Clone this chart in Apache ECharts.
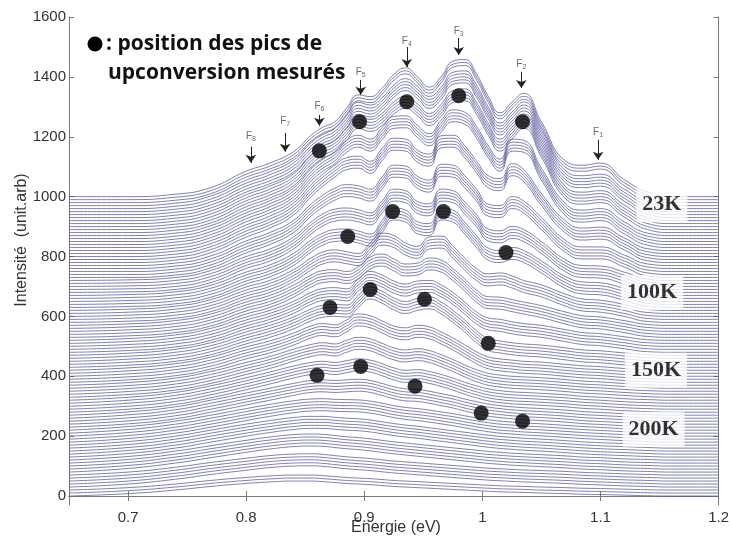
<!DOCTYPE html>
<html><head><meta charset="utf-8">
<script src="https://cdn.jsdelivr.net/npm/echarts@6/dist/echarts.min.js"></script>
<style>html,body{margin:0;padding:0;background:#fff}#c{width:732px;height:540px}</style>
</head><body><div id="c"></div>
<script>
// Energy grid (eV) shared by all spectra
const energies = [0.65,0.70,0.74,0.77,0.80,0.82,0.84,0.855,0.865,0.875,0.885,0.895,0.905,0.915,0.925,0.935,0.945,0.955,0.965,0.975,0.985,0.995,1.005,1.015,1.025,1.035,1.05,1.07,1.085,1.10,1.12,1.14,1.16,1.20];

// Vertical offset of each spectrum in the waterfall
const offsets = [0,10,20,30,40,50,60,70,80,90,100,110,120,130,140,150,160,170,180,190,200,210,220,230,240,250,260,270,280,290,300,310,320,330,340,350,360,370,380,390,400,410,420,430,440,450,460,470,480,490,500,510,520,530,540,550,560,570,580,590,600,610,620,630,640,650,660,670,680,690,700,710,720,730,740,750,760,770,780,790,800,810,820,830,840,850,860,870,880,890,900,910,920,930,940,950,960,970,980,990,1000];

// Spectral shapes (intensity above each spectrum's own baseline), by offset level
const prof0    = [0,8,20,32,42,47,50,50,48,45,42,40,38,35,32,30,28,26,24,22,20,18,16,14,13,12,10,8,6,5,3,1,0,0];
const prof50   = [0,10,26,42,56,65,70,71,69,65,61,58,55,51,47,44,41,38,35,32,29,26,23,21,19,17,15,12,9,7,4,2,0,0];
const prof100  = [0,12,30,48,66,77,85,87,86,82,78,75,71,66,61,57,53,49,45,41,37,33,29,26,23,21,18,14,10,8,4,2,0,0];
const prof150  = [0,12,30,50,70,82,92,96,96,93,90,88,84,78,72,67,63,58,53,48,43,38,33,29,26,23,20,15,11,8,5,2,0,0];
const prof200  = [0,12,30,50,72,86,98,104,105,103,102,101,97,90,82,76,72,67,61,55,48,41,35,30,27,24,21,16,12,9,5,2,0,0];
const prof250  = [0,11,28,50,74,90,106,116,118,116,118,120,116,106,95,88,86,80,72,64,54,45,37,32,28,25,22,17,12,9,5,2,0,0];
const prof300  = [0,10,26,48,75,94,114,126,130,126,132,138,134,122,108,100,102,96,86,74,60,48,38,32,28,26,23,18,13,10,5,2,0,0];
const prof350  = [0,9,24,46,76,96,120,136,142,138,150,160,155,140,125,118,122,116,102,86,68,52,40,34,30,28,25,19,14,11,6,2,0,0];
const prof400  = [0,8,22,44,78,98,124,148,156,152,168,188,182,165,148,142,150,145,128,108,85,62,45,38,34,30,27,20,15,12,6,2,0,0];
const prof450  = [0,7,20,42,78,100,128,155,167,170,168,200,228,214,192,180,190,195,178,150,118,82,56,48,42,38,34,25,18,15,8,2,0,0];
const prof500  = [0,6,18,40,78,100,130,160,173,176,172,205,230,218,198,188,198,200,185,160,128,95,75,70,62,56,50,36,26,22,12,2,0,0];
const prof550  = [0,5,16,38,78,100,134,168,183,186,180,196,228,238,222,205,208,225,218,190,155,118,96,94,86,78,66,45,32,28,16,3,0,0];
const prof600  = [0,4,14,36,78,100,136,175,195,202,196,190,225,258,250,225,214,245,248,215,175,140,122,125,115,100,85,55,38,34,20,3,0,0];
const prof650  = [0,3,12,34,78,102,140,185,208,220,222,215,205,250,292,285,246,240,292,285,245,200,158,150,160,150,115,64,45,42,24,4,0,0];
const prof700  = [0,2,10,33,80,105,145,195,222,238,242,236,226,265,305,300,264,256,305,300,262,220,172,166,180,170,130,70,50,48,28,4,0,0];
const prof750  = [0,0,8,32,82,110,150,205,235,258,270,266,255,295,335,332,298,285,338,335,300,255,205,200,230,215,160,85,62,62,35,5,0,0];
const prof800  = [0,0,8,33,85,115,158,220,255,285,310,315,298,340,375,372,335,322,383,385,350,300,250,240,290,270,190,100,75,78,42,6,0,0];
const prof850  = [0,0,8,33,86,116,158,222,255,280,318,335,322,360,398,400,368,340,385,420,412,365,300,255,322,318,225,108,85,90,46,8,0,0];
const prof900  = [0,0,8,32,86,115,156,218,248,268,308,348,338,358,396,415,390,358,388,434,440,395,325,272,312,348,252,115,95,100,52,10,0,0];
const prof950  = [0,0,8,32,85,113,152,210,238,258,300,345,336,360,402,424,398,365,395,445,450,402,330,276,312,346,252,118,100,105,55,12,0,0];
const prof1000 = [0,0,8,30,85,112,150,205,232,250,295,340,334,362,408,430,400,366,400,452,458,410,335,280,315,345,250,120,105,112,57,15,0,0];
const profiles = [prof0,prof50,prof100,prof150,prof200,prof250,prof300,prof350,prof400,prof450,prof500,prof550,prof600,prof650,prof700,prof750,prof800,prof850,prof900,prof950,prof1000];

// Measured upconversion peak positions (black dots)
const dotX = [0.862,0.896,0.936,0.980,1.034, 0.886,0.924,0.967,1.020, 0.871,0.905,0.951,1.005, 0.860,0.897,0.943,0.999,1.034];
const dotY = [1153,1250,1317,1337,1250, 867,950,950,813, 630,690,657,510, 403,433,367,277,250];

// Temperature labels
const tempLabels = ['23K','100K','150K','200K'];
const tempX = [1.152,1.1437,1.147,1.145];
const tempY = [973,680,420,223];

// F peak annotations
const fNames = ['8','7','6','5','4','3','2','1'];
const fX = [0.804,0.833,0.862,0.897,0.936,0.980,1.033,1.098];
const fLabelY = [1200,1250,1300,1413,1517,1550,1440,1213];
const fArrowTop = [1167,1213,1273,1390,1500,1530,1417,1190];
const fArrowTip = [1113,1150,1237,1340,1433,1473,1363,1123];

// Axis ticks
const xTicks = [0.7,0.8,0.9,1.0,1.1,1.2];
const yTicks = [0,200,400,600,800,1000,1200,1400,1600];

const chart = echarts.init(document.getElementById('c'), null, {renderer:'canvas'});
const axisColor = '#7a7a7a';
const labelFont = {color:'#333', fontSize:15, fontFamily:'Liberation Sans, Arial, sans-serif'};

const lineSeries = offsets.map(off => {
  const prof = profiles[Math.round(off / 50)];
  return {
    type:'line', silent:true, showSymbol:false, smooth:0.5, animation:false,
    lineStyle:{color:'rgba(78,78,150,0.72)', width:1},
    emphasis:{disabled:true},
    data: energies.map((x, j) => [x, off + prof[j]])
  };
});

const option = {
  animation:false,
  grid:{left:69, right:8, top:17, bottom:35},
  xAxis:[
    {type:'value', min:0.65, max:1.2, position:'bottom',
     axisLine:{show:true, lineStyle:{color:axisColor}},
     axisTick:{show:true, inside:true, length:5, customValues:xTicks, lineStyle:{color:axisColor}},
     axisLabel:Object.assign({customValues:xTicks, margin:5, formatter:v => String(Math.round(v*10)/10)}, labelFont),
     splitLine:{show:false}},
    {type:'value', min:0.65, max:1.2, position:'top',
     axisLine:{show:true, lineStyle:{color:axisColor}},
     axisTick:{show:true, inside:true, length:5, customValues:xTicks, lineStyle:{color:axisColor}},
     axisLabel:{show:false}, splitLine:{show:false}}
  ],
  yAxis:[
    {type:'value', min:-30, max:1600, position:'left',
     axisLine:{show:true, lineStyle:{color:axisColor}},
     axisTick:{show:true, inside:true, length:5, customValues:yTicks, lineStyle:{color:axisColor}},
     axisLabel:Object.assign({customValues:yTicks, margin:3, formatter:v => String(Math.round(v))}, labelFont),
     splitLine:{show:false}},
    {type:'value', min:-30, max:1600, position:'right',
     axisLine:{show:true, lineStyle:{color:axisColor}},
     axisTick:{show:true, inside:true, length:5, customValues:yTicks, lineStyle:{color:axisColor}},
     axisLabel:{show:false}, splitLine:{show:false}}
  ],
  series: lineSeries.concat([
    {type:'scatter', z:6, silent:true, symbolSize:15, itemStyle:{color:'#000'},
     data: dotX.map((x,i) => [x, dotY[i]])},
    {type:'scatter', z:5, silent:true, symbolSize:0,
     data: tempX.map((x,i) => ({value:[x, tempY[i]], name:tempLabels[i]})),
     label:{show:true, position:'inside', formatter:'{b}', fontFamily:'Liberation Serif, Times New Roman, serif',
            fontWeight:'bold', fontSize:22, color:'#000', backgroundColor:'#fff', padding:[7,6,6,6]}},
    {type:'scatter', z:5, silent:true, symbolSize:0,
     data: fX.map((x,i) => ({value:[x, fLabelY[i]], name:fNames[i]})),
     label:{show:true, position:'inside', formatter:p => '{f|F}{s|' + p.name + '}',
            rich:{f:{fontSize:10, color:'#444', fontFamily:'Liberation Sans', lineHeight:12, verticalAlign:'top'},
                  s:{fontSize:7, color:'#444', fontFamily:'Liberation Sans', lineHeight:12, verticalAlign:'bottom', padding:[6,0,0,0]}}},
     markLine:{silent:true, symbol:['none','arrow'], symbolSize:8, animation:false,
       lineStyle:{color:'#222', type:'solid', width:1}, label:{show:false}, emphasis:{disabled:true},
       data: fX.map((x,i) => [{coord:[x, fArrowTop[i]]}, {coord:[x, fArrowTip[i]]}])}}
  ]),
  graphic:[
    {type:'circle', shape:{cx:95, cy:44, r:7.5}, style:{fill:'#000'}, silent:true},
    {type:'text', x:106, y:44, silent:true, style:{text:': position des pics de', font:'bold 21px "Open Sans", sans-serif', fill:'#111', align:'left', verticalAlign:'middle'}},
    {type:'text', x:108, y:73, silent:true, style:{text:'upconversion mesurés', font:'bold 21px "Open Sans", sans-serif', fill:'#111', align:'left', verticalAlign:'middle'}},
    {type:'text', x:396, y:528, silent:true, style:{text:'Énergie (eV)', font:'16px "Liberation Sans", Arial, sans-serif', fill:'#333', align:'center', verticalAlign:'middle'}},
    {type:'text', x:22, y:240, rotation:Math.PI/2, silent:true, style:{text:'Intensité  (unit.arb)', font:'16px "Liberation Sans", Arial, sans-serif', fill:'#333', align:'center', verticalAlign:'middle'}}
  ]
};
chart.setOption(option);
</script>
</body></html>
